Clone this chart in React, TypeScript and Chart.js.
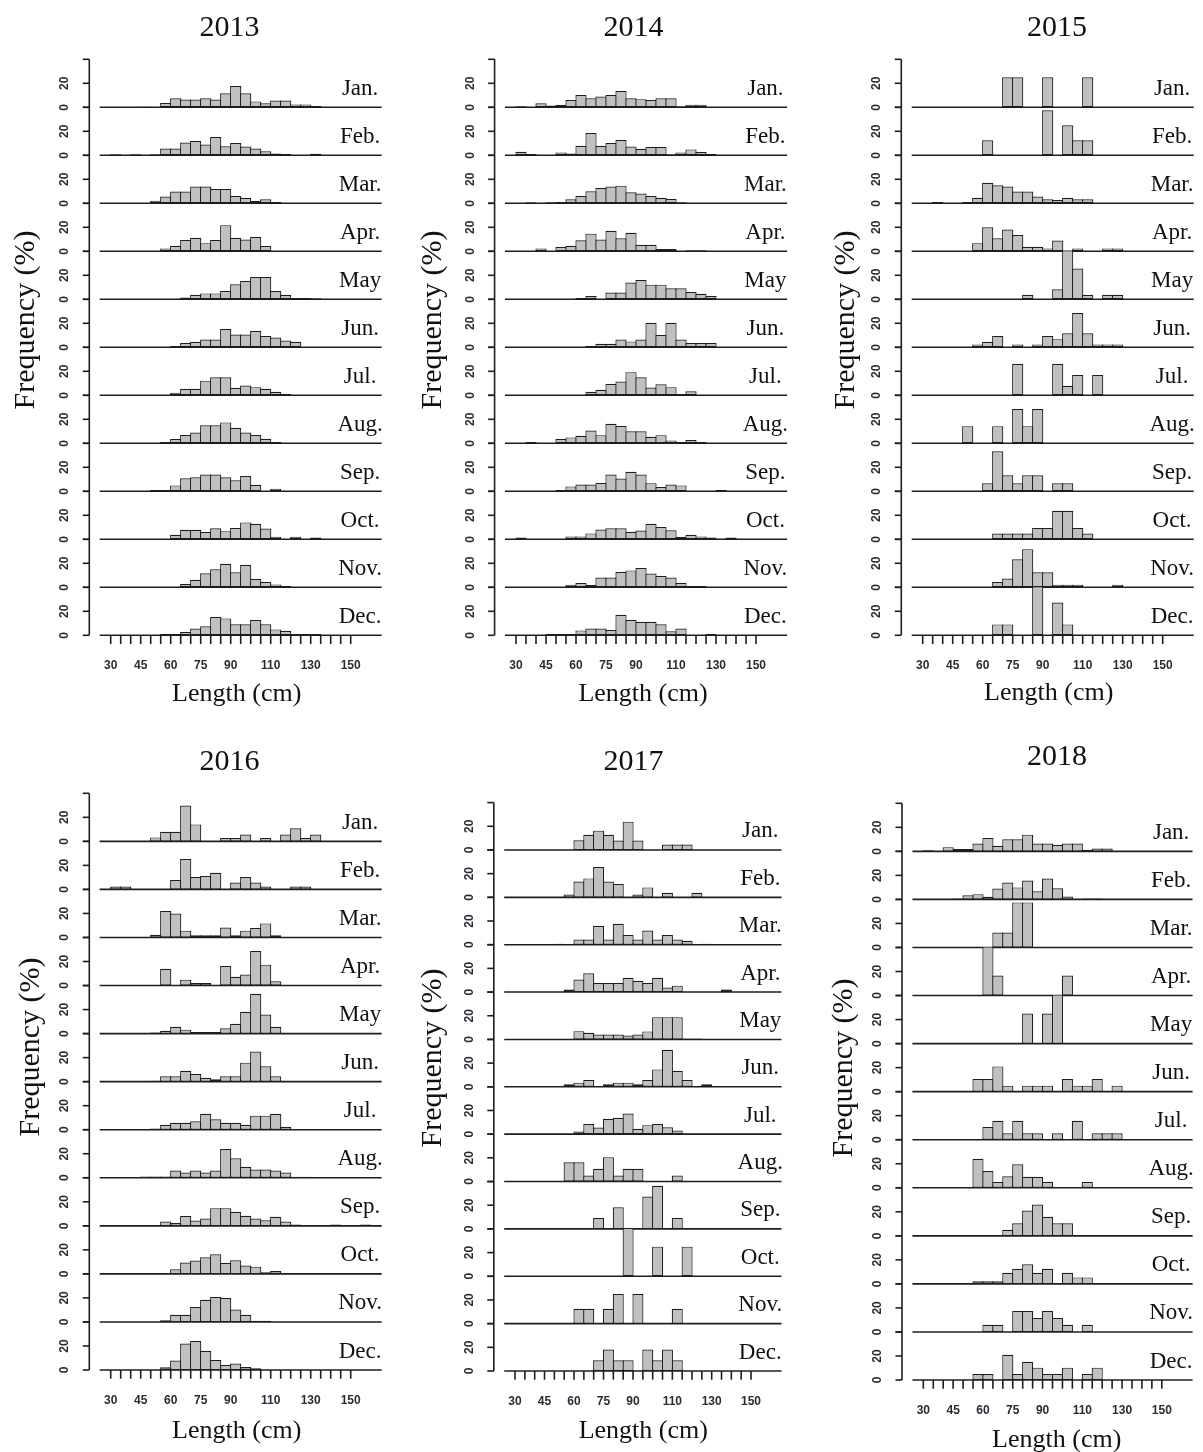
import React, { useEffect, useRef } from "react";
import { Chart, registerables } from "chart.js";

Chart.register(...registerables);

// ---------------- data ----------------
const MONTHS = ["Jan.", "Feb.", "Mar.", "Apr.", "May", "Jun.", "Jul.", "Aug.", "Sep.", "Oct.", "Nov.", "Dec."];
const YEARS = ["2013", "2014", "2015", "2016", "2017", "2018"];
// lower edges of the 5 cm length classes
const BIN_LEFT = [25, 30, 35, 40, 45, 50, 55, 60, 65, 70, 75, 80, 85, 90, 95, 100, 105, 110, 115, 120, 125, 130, 135, 140, 145, 150, 155, 160];
const BIN_WIDTH = 5;
const X_TICKS = [30, 35, 40, 45, 50, 55, 60, 65, 70, 75, 80, 85, 90, 95, 100, 105, 110, 115, 120, 125, 130, 135, 140, 145, 150];
const X_LABELS = [30, 45, 60, 75, 90, 110, 130, 150];
const Y_TICKS = [0, 20, 40];
const Y_LABELS = [0, 20];
const X_MIN = 24.5;
const X_MAX = 165.5;
const Y_MAX = 40;

const FREQ_2013: number[][] = [
  [0,0,0,0,0.5,0,3.5,7.6,6.5,6.5,7.6,6.5,11.7,17.7,11.7,4.9,3.3,5.7,5.7,2.4,2.4,1,0,0,0,0,0,0],
  [0,0.8,0,0.8,0,0.8,5.7,5.7,10.6,12,9,15.2,7.6,10.3,7.3,5.7,3.3,1.6,1,0,0,1.3,0,0,0,0,0,0],
  [0,0,0,0,0,2.2,5.7,9.8,9.8,13.9,13.9,12,12,6,4.6,1.9,3.3,1,0,0,0,0,0,0,0,0,0,0],
  [0,0,0,0,0,0,2.4,4.6,9.5,11.2,6.8,9.5,21.8,11.2,9.8,12,4.4,0,0,0,0,0,0,0,0,0,0,0],
  [0,0,0,0,0,0,0,0,1.4,3.8,4.9,4.9,7,12.5,15.2,18.5,18.5,7,3.8,1,1,0.8,0,0,0,0,0,0],
  [0,0,0,0,0,0,0,1,3.5,4.6,6.5,6.5,15.2,10.6,10.6,13.6,9.5,8.2,5.7,4.6,0,0,0,0,0,0,0,0],
  [0,0,0,0,0,0,0,2.2,5.4,5.4,12.2,15,15,6.3,8.2,6.8,5.4,3,1,0,0,0,0,0,0,0,0,0],
  [0,0,0,0,0,0,1,3.5,7,9,15,15,17.4,13,9,7,3.8,1,0,0,0,0,0,0,0,0,0,0],
  [0,0,0,0,0,1,1,4.9,10.9,11.7,13.9,13.9,11.7,9.2,12.8,5.4,0,2.2,0,0,0,0,0,0,0,0,0,0],
  [0,0,0,0,0,0,0,3.8,7.9,7.9,6,9.2,6.8,9.5,14.1,13,9,2.2,0,2.2,0,1.4,0,0,0,0,0,0],
  [0,0,0,0,0,0,0,0,2.7,6.3,11.7,15,19.6,12.5,18.8,7,4.4,2.4,1,0,0,0,0,0,0,0,0,0],
  [0,0,0,0,0,0,1,1,2.7,5.7,7.6,15.2,14.1,9.2,9.2,12.8,9.2,4.9,3.8,1,1,1,0,0,0,0,0,0],
];

const FREQ_2014: number[][] = [
  [0,0.8,0,3.3,1.6,1.9,6,10.3,7.6,9,10.3,13.6,7.6,6.8,6,7.6,7.6,0.8,2.2,2.2,0,0,0,0,0,0,0,0],
  [0,3,1,0,0,2.4,1.4,7.9,18.5,7.9,10.3,12.8,7.3,5.4,7,7,0.8,2.4,4.9,2.7,1,0,0,0,0,0,0,0],
  [0,0,0.8,0,0.8,1,3.3,6,10,12.8,13.9,14.7,9.2,8.2,6,4.6,3.5,0.8,0,0,0,0,0,0,0,0,0,0],
  [0,0,0,2.4,0,3.5,4.6,9.2,14.7,9.8,17.1,10.9,15.5,5.4,5.4,1.9,1.9,0,0.8,0.8,0,0,0,0,0,0,0,0],
  [0,0,0,0,0,0,0,1,2.7,0,5.7,5.7,13.9,16,12.2,12.2,9.2,9.2,6,4.6,2.7,0,0,0,0,0,0,0],
  [0,0,0,0,0,0,0,0,1,3,3,6.5,4.9,6.5,20.4,10.3,20.4,6.5,3.5,3.5,3.5,0,0,0,0,0,0,0],
  [0,0,0,0,0,0,0,0,3,4.6,9.5,11.4,19.3,15,6.5,9.2,6.8,1,3.3,0,0,0,0,0,0,0,0,0],
  [0,0,1,0,0,3.5,4.9,6.3,10.6,6.8,16.3,14.4,10,10,5.4,6.8,2.4,1,2.7,1,0,0,0,0,0,0,0,0],
  [0,0,0,0,0,1,4.1,5.7,5.7,7,13.9,10.6,16.3,13.9,6.8,3.5,5.7,4.9,0,0,0,1,0,0,0,0,0,0],
  [0,1.4,0,0,0,0,2.4,2.4,4.9,8.2,9.2,9.2,6.3,7.3,13,10.3,7.6,1.9,3.8,2.4,1.4,0,1.4,0,0,0,0,0],
  [0,0,0,0,0,0,2.2,3.5,1.9,8.2,8.2,12.8,14.1,16,11.4,9.5,8.2,3.8,1,1,0,0,0,0,0,0,0,0],
  [0,0,0,0,1,1,1,4.1,5.7,5.7,4.4,17.1,12.8,11.2,11.2,9.2,3.3,5.7,0,0,1,0,0,0,0,0,0,0],
];

const FREQ_2015: number[][] = [
  [0,0,0,0,0,0,0,0,0,25,25,0,0,25,0,0,0,25,0,0,0,0,0,0,0,0,0,0],
  [0,0,0,0,0,0,0,12.5,0,0,0,0,0,37.5,0,25,12.5,12.5,0,0,0,0,0,0,0,0,0,0],
  [0,0,1,0,0,1,4.6,17.1,15,13.9,9.8,9.8,5.7,3.3,2.7,4.6,3.3,3.3,0,0,0,0,0,0,0,0,0,0],
  [0,0,0,0,0,0,6.8,20.1,10.9,18.2,13.6,3.8,3.8,2.4,9,0,2.4,0,0,2.4,2.4,0,0,0,0,0,0,0],
  [0,0,0,0,0,0,0,0,0,0,0,3.8,0,0,8.4,50,25.6,3.8,0,3.8,3.8,0,0,0,0,0,0,0],
  [0,0,0,0,0,0,2.4,4.6,9.5,0,2.4,0,2.4,9.5,6.8,11.7,28.6,11.7,2.4,2.4,2.4,0,0,0,0,0,0,0],
  [0,0,0,0,0,0,0,0,0,0,26,0,0,0,26,8,17,0,17,0,0,0,0,0,0,0,0,0],
  [0,0,0,0,0,14.3,0,0,14.3,0,28.6,14.3,28.6,0,0,0,0,0,0,0,0,0,0,0,0,0,0,0],
  [0,0,0,0,0,0,0,6.7,33.3,13.3,6.7,13.3,13.3,0,6.7,6.7,0,0,0,0,0,0,0,0,0,0,0,0],
  [0,0,0,0,0,0,0,0,4.8,4.8,4.8,4.8,9.5,9.5,23.8,23.8,9.5,4.8,0,0,0,0,0,0,0,0,0,0],
  [0,0,0,0,0,0,0,0,4.4,7.3,23.4,31.8,12.5,12.5,2.2,2.2,2.2,0,0,0,2.2,0,0,0,0,0,0,0],
  [0,0,0,0,0,0,0,0,9.1,9.1,0,0,45.5,0,27.3,9.1,0,0,0,0,0,0,0,0,0,0,0,0],
];

const FREQ_2016: number[][] = [
  [0,0,0,0,0,3.3,7.9,7.9,29.9,14.1,0,0,2.7,2.7,5.7,0,2.7,0,5.7,10.9,2.7,5.7,0,0,0,0,0,0],
  [0,2.4,2.4,0,0,0,0,7.9,25.3,10.3,11.2,13.9,0,5.7,10.3,5.7,2.4,0,0,2.4,2.4,0,0,0,0,0,0,0],
  [0,0,0,0,0,2.2,22,19.9,5.7,1.9,1.9,1.9,8.2,1.9,5.7,7.9,11.7,1.9,0,0,0,0,0,0,0,0,0,0],
  [0,0,0,0,0,0,13.9,0,4.9,2.2,2.2,0,16.3,7.3,9.2,28.8,17.4,3.5,0,0,0,0,0,0,0,0,0,0],
  [0,0,0,0,0,1,2.4,5.7,3.3,1.4,1.4,1.4,4.4,8.2,18.2,33.2,15.8,5.7,0,0,0,0,0,0,0,0,0,0],
  [0,0,0,0,0,0.8,4.4,4.4,9,6.3,3.3,1.9,4.4,4.4,15.8,25,12.8,4.4,0,0,0,0,0,0,0,0,0,0],
  [0,0,0,0,0,1,4.1,5.7,5.7,7,13.3,8.7,5.7,5.7,4.1,11.7,11.7,13.3,2.4,0,0,0,0,0,0,0,0,0],
  [0,0,0,0,1,1,1,6,4.4,6,4.4,6,23.9,16.3,9.2,6.8,6.8,6,4.4,0.8,0.8,0,0,0,0,0,0,0],
  [0,0,0,0,0,0,3.5,2.4,8.2,4.4,6,14.7,14.7,11.7,8.4,6,4.6,7.6,3.5,1,0,0,0,1,0,0,1,0],
  [0,0,0,0,0,0,0,3.8,9.5,11.2,13.9,16.3,9,11.4,7,6,1.4,2.4,0,0,0,0,0,0,0,0,0,0],
  [0,0,0,0,0,0,1.4,6,6,12.5,18.5,20.7,19.9,10.3,6,1,1,0,0,0,0,0,0,0,0,0,0,0],
  [0,0,0,0,0,0,2.2,7.9,22,24.2,16,8.4,4.1,5.4,2.4,1.4,0,0,0,0,0,0,0,0,0,0,0,0],
];

const FREQ_2017: number[][] = [
  [0,0,0,0,0,0,0,8.2,12.8,16.3,12.8,7.9,23.9,7.9,0,0,4.6,4.6,4.6,0,0,0,0,0,0,0,0,0],
  [0,0,0,0,0,0,2.4,13.3,16,25.6,13.3,11.2,0,2.4,8.4,0,3.8,0,0,3.8,0,0,0,0,0,0,0,0],
  [0,0,0,0,0,0.8,0,4.4,4.4,16,4.4,17.7,8.2,4.4,12,4.4,8.2,4.4,3.3,0,0.8,0,0,0,0,0,0,0],
  [0,0,0,0,0,0,2.2,10.6,15.8,7.6,7.6,7.6,12,9.5,7.6,12,3.8,5.4,0,0,0,0,2.2,0,0,0,0,0],
  [0,0,0,0,0,0,0,7,5.7,4.1,4.1,4.1,3.3,4.1,6.8,18.8,18.8,18.8,0.8,0.8,0,0,0,0,0,0,0,0],
  [0,0,0,0,0,0,2.2,3.5,5.7,0,2.2,3.5,3.5,2.2,5.7,14.7,31.3,13.6,5.7,0,2.2,0,0,0,0,0,0,0],
  [0,0,0,0,0,0,0,2.3,8.5,5.6,13,13.8,17.5,4.5,7.6,8.5,5.9,3.1,0,0,0,0,0,0,0,0,0,0],
  [0,0,0,0,0,0,16.3,16.3,5.1,10.7,20.6,5.1,10.7,10.7,0,0,0,5.1,0,0,0,0,0,0,0,0,0,0],
  [0,0,0,0,0,0,0,0,0,9.1,0,18.2,0,0,27.3,36.4,0,9.1,0,0,0,0,0,0,0,0,0,0],
  [0,0,0,0,0,0,0,0,0,0,0,0,50,0,0,25,0,0,25,0,0,0,0,0,0,0,0,0],
  [0,0,0,0,0,0,0,12.5,12.5,0,12.5,25,0,25,0,0,0,12.5,0,0,0,0,0,0,0,0,0,0],
  [0,0,0,0,0,0,0,0,0,9.1,18.2,9.1,9.1,0,18.2,9.1,18.2,9.1,0,0,0,0,0,0,0,0,0,0],
];

const FREQ_2018: number[][] = [
  [0,1,0,3.5,1.9,1.9,6.5,11.2,4.6,10,10,13.9,6.5,6.5,5.2,6.5,6.5,1.4,2.4,2.4,0,0,0,0,0,0,0,0],
  [0,0,0,0,0.8,3.5,4.4,2.2,9,14.1,10,15.8,6.8,17.4,9.2,2.4,0,0.8,0.8,0,0,0,0,0,0,0,0,0],
  [0,0,0,0,0,0,0,0,12.5,12.5,37.5,37.5,0,0,0,0,0,0,0,0,0,0,0,0,0,0,0,0],
  [0,0,0,0,0,0,0,66.7,16.7,0,0,0,0,0,0,16.7,0,0,0,0,0,0,0,0,0,0,0,0],
  [0,0,0,0,0,0,0,0,0,0,0,25,0,25,50,0,0,0,0,0,0,0,0,0,0,0,0,0],
  [0,0,0,0,0,0,10.5,10.5,21,5,0,5,5,5,0,10.5,5,5,10.5,0,5,0,0,0,0,0,0,0],
  [0,0,0,0,0,0,0,10.5,15.8,5.3,15.8,5.3,5.3,0,5.3,0,15.8,0,5.3,5.3,5.3,0,0,0,0,0,0,0],
  [0,0,0,0,0,0,24.2,13.9,4.9,9.5,19.6,9.2,9.2,4.9,0,0,0,4.9,0,0,0,0,0,0,0,0,0,0],
  [0,0,0,0,0,0,0,0,0,5,10.5,21,26,15.8,10.5,10.5,0,0,0,0,0,0,0,0,0,0,0,0],
  [0,0,0,0,0,0,2.2,2.2,2.2,9.2,12.5,16.3,9.2,12.5,0,9.2,5.4,5.4,0,0,0,0,0,0,0,0,0,0],
  [0,0,0,0,0,0,0,6,6,0,17.4,17.4,11.7,17.4,11.7,6,0,6,0,0,0,0,0,0,0,0,0,0],
  [0,0,0,0,0,0,4.9,4.9,0,21,4.9,15.2,10.3,4.9,4.9,10.3,0,4.9,10.3,0,0,0,0,0,0,0,0,0],
];

const FREQ_BY_YEAR = [FREQ_2013, FREQ_2014, FREQ_2015, FREQ_2016, FREQ_2017, FREQ_2018];

// ---------------- layout / style ----------------
const PAGE_W = 1203;
const PAGE_H = 1452;
const MONTH_LABEL_X = 154.7; // cm position of month label centre
const INK = "#1e1e1e";
const TICK_INK = "#2e2a33";
const BAR_FILL = "#c0c0c0";
const SERIF = '"Liberation Serif", "Times New Roman", serif';
const SANS = '"Liberation Sans", Arial, sans-serif';

type Spec = {
  plotLeft: number; plotTop: number; plotW: number; plotH: number;
  title: [number, number]; ylab: [number, number]; xlab: [number, number];
};

const SPECS: Spec[] = [
  { plotLeft: 99.7, plotTop: 59.3, plotW: 282, plotH: 576, title: [229.5, 36], ylab: [34, 320], xlab: [236.7, 701] },
  { plotLeft: 505, plotTop: 59.3, plotW: 282, plotH: 576, title: [633.5, 36], ylab: [441, 320], xlab: [643, 701] },
  { plotLeft: 911.7, plotTop: 59.3, plotW: 282, plotH: 576, title: [1057, 36], ylab: [854, 320], xlab: [1048.7, 700] },
  { plotLeft: 99.7, plotTop: 793.3, plotW: 282, plotH: 576.7, title: [229.5, 770], ylab: [39, 1047], xlab: [236.7, 1438.3] },
  { plotLeft: 504.2, plotTop: 802.6, plotW: 277.3, plotH: 568.4, title: [633.5, 770], ylab: [441, 1058], xlab: [643.3, 1438.3] },
  { plotLeft: 912.4, plotTop: 803.3, plotW: 280.2, plotH: 576.7, title: [1057, 765], ylab: [852, 1068], xlab: [1056.7, 1446.7] },
];

function Panel({ year, rows, spec }: { year: string; rows: number[][]; spec: Spec }) {
  const ref = useRef<HTMLCanvasElement>(null);
  const cLeft = Math.floor(spec.plotLeft - 100);
  const cTop = Math.floor(spec.plotTop - 62);
  const cW = Math.ceil(spec.plotW + 100 + 42);
  const cH = Math.ceil(spec.plotH + 62 + 95);
  const padLeft = spec.plotLeft - cLeft;
  const padTop = spec.plotTop - cTop;
  const padRight = cW - padLeft - spec.plotW;
  const padBottom = cH - padTop - spec.plotH;

  useEffect(() => {
    const canvas = ref.current;
    if (!canvas) return;
    const px = (x: number) => x - cLeft;
    const py = (y: number) => y - cTop;

    const scales: any = {
      x: {
        type: "linear",
        display: false,
        min: X_MIN,
        max: X_MAX,
        offset: false,
        afterBuildTicks: (s: any) => {
          s.ticks = X_TICKS.map((v) => ({ value: v }));
        },
      },
    };
    rows.forEach((_, i) => {
      scales["y" + i] = {
        type: "linear",
        display: false,
        position: "right",
        stack: "rows",
        stackWeight: 1,
        min: 0,
        max: Y_MAX,
        afterBuildTicks: (s: any) => {
          s.ticks = Y_TICKS.map((v) => ({ value: v }));
        },
      };
    });

    const datasets = rows.map((row, i) => ({
      type: "bar" as const,
      label: MONTHS[i],
      data: BIN_LEFT.map((b, j) => ({ x: b + BIN_WIDTH / 2, y: row[j] })),
      xAxisID: "x",
      yAxisID: "y" + i,
      backgroundColor: BAR_FILL,
      borderColor: INK,
      borderWidth: 1.2,
      borderSkipped: false,
      grouped: false,
      barPercentage: 1.12,
      categoryPercentage: 1,
    }));

    const decor = {
      id: "decor",
      beforeDatasetsDraw(chart: any) {
        const { ctx, chartArea } = chart;
        ctx.save();
        ctx.strokeStyle = INK;
        ctx.lineWidth = 1.6;
        rows.forEach((_, i) => {
          const y = chart.scales["y" + i].getPixelForValue(0);
          ctx.beginPath();
          ctx.moveTo(chartArea.left, y);
          ctx.lineTo(chartArea.right, y);
          ctx.stroke();
        });
        ctx.restore();
      },
      afterDatasetsDraw(chart: any) {
        const { ctx, chartArea } = chart;
        const xs = chart.scales.x;
        const first = chart.scales.y0;
        const last = chart.scales["y" + (rows.length - 1)];
        const axisX = chartArea.left - 10.4;
        const bottomY = last.getPixelForValue(0);
        ctx.save();
        ctx.strokeStyle = INK;
        ctx.lineWidth = 1.6;
        // y axis line
        ctx.beginPath();
        ctx.moveTo(axisX, first.getPixelForValue(Y_MAX));
        ctx.lineTo(axisX, bottomY);
        ctx.stroke();
        // y ticks + labels
        ctx.fillStyle = TICK_INK;
        ctx.font = `bold 12px ${SANS}`;
        ctx.textAlign = "center";
        ctx.textBaseline = "alphabetic";
        rows.forEach((_, i) => {
          const sc = chart.scales["y" + i];
          Y_TICKS.forEach((v) => {
            const y = sc.getPixelForValue(v);
            ctx.beginPath();
            ctx.moveTo(axisX - 6.5, y);
            ctx.lineTo(axisX, y);
            ctx.stroke();
          });
          Y_LABELS.forEach((v) => {
            const y = sc.getPixelForValue(v);
            ctx.save();
            ctx.translate(axisX - 21, y);
            ctx.rotate(-Math.PI / 2);
            ctx.fillText(String(v), 0, 0);
            ctx.restore();
          });
        });
        // x ticks + labels
        X_TICKS.forEach((v) => {
          const x = xs.getPixelForValue(v);
          ctx.beginPath();
          ctx.moveTo(x, bottomY);
          ctx.lineTo(x, bottomY + 8.7);
          ctx.stroke();
        });
        X_LABELS.forEach((v) => {
          ctx.fillText(String(v), xs.getPixelForValue(v), bottomY + 33.5);
        });
        // month labels
        ctx.fillStyle = "#111";
        ctx.font = `23px ${SERIF}`;
        rows.forEach((_, i) => {
          const y = chart.scales["y" + i].getPixelForValue(0);
          ctx.fillText(MONTHS[i], xs.getPixelForValue(MONTH_LABEL_X), y - 12.5);
        });
        // titles
        ctx.font = `30px ${SERIF}`;
        ctx.fillText(year, px(spec.title[0]), py(spec.title[1]));
        ctx.font = `26px ${SERIF}`;
        ctx.fillText("Length (cm)", px(spec.xlab[0]), py(spec.xlab[1]));
        ctx.save();
        ctx.font = `30px ${SERIF}`;
        ctx.translate(px(spec.ylab[0]), py(spec.ylab[1]));
        ctx.rotate(-Math.PI / 2);
        ctx.fillText("Frequency (%)", 0, 0);
        ctx.restore();
        ctx.restore();
      },
    };

    const chart = new Chart(canvas, {
      type: "bar",
      data: { datasets: datasets as any },
      options: {
        animation: false,
        responsive: false,
        maintainAspectRatio: false,
        devicePixelRatio: 1,
        layout: { padding: { left: padLeft, top: padTop, right: padRight, bottom: padBottom } },
        scales,
        plugins: { legend: { display: false }, tooltip: { enabled: false }, title: { display: false } },
        events: [],
      } as any,
      plugins: [decor],
    });
    return () => chart.destroy();
  }, []);

  return (
    <canvas
      ref={ref}
      width={cW}
      height={cH}
      style={{ position: "absolute", left: cLeft, top: cTop, width: cW, height: cH }}
    />
  );
}

export default function App() {
  return (
    <div
      style={{
        position: "absolute",
        left: 0,
        top: 0,
        width: PAGE_W,
        height: PAGE_H,
        overflow: "hidden",
        background: "#ffffff",
      }}
    >
      {YEARS.map((yr, k) => (
        <Panel key={yr} year={yr} rows={FREQ_BY_YEAR[k]} spec={SPECS[k]} />
      ))}
    </div>
  );
}
